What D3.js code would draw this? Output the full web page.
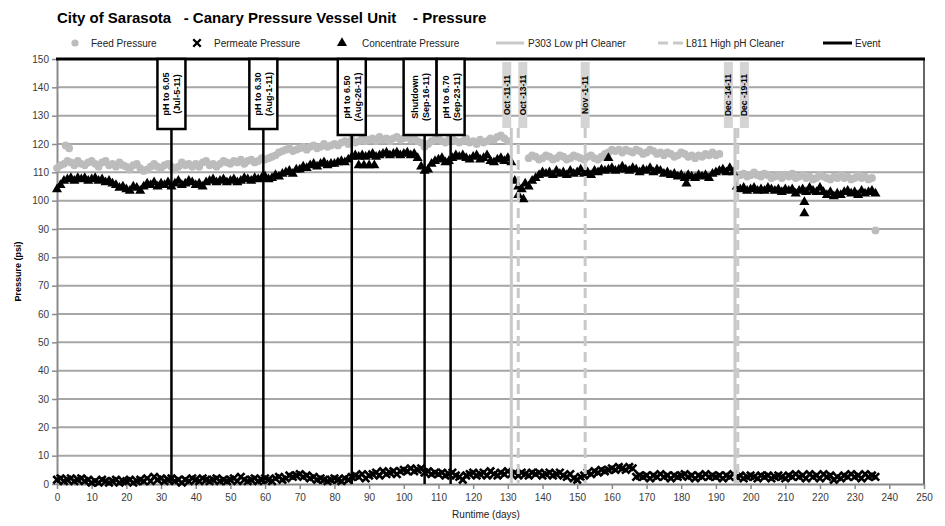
<!DOCTYPE html>
<html><head><meta charset="utf-8">
<script src="https://cdn.jsdelivr.net/npm/d3@7"></script>
<style>
body{margin:0;background:#fff;}
svg{display:block;font-family:"Liberation Sans",Arial,sans-serif;}
</style>
</head><body>
<svg id="chart" width="945" height="526"></svg>
<script>
// ---- DATA (index = runtime day) ----
const feedPressure = [
 111.5,112.5,113,114,113.5,112.5,114,113,112.5,113.5,
 114,113,112,113.5,114,112.5,113,112,113.5,112.5,
 112,111,112.5,113,111.5,110.5,111,112,113,112,
 111.5,112.5,113,112,111,112,113.5,112.5,113,112,
 113,112,113.5,114,112.5,113,112,113,114,113.5,
 113,114,113.5,114.5,113,114,114.5,113.5,114,115,
 114.5,115,115.5,116,117,117.5,118,118.5,117.5,118,
 118.5,119,118,119,119.5,118.5,119,120,119,119.5,
 120,119.5,120.5,121,120,121.5,120.5,121,122,121,
 121.5,122,121,122.5,121.5,122,121,122,122.5,121.5,
 122,122.5,121.5,122,121,120.5,119,120,121,121.5,
 122,121,120.5,121.5,122,121,120.5,121,122,120.5,
 121,120,121.5,120.5,121,122,121.5,122.5,123,122,
 121,null,null,null,null,null,115,116,115.5,114.5,
 115,116,115.5,114.5,115,116,115.5,114.5,115,116,
 115.5,115,114.5,115.5,116,115,114.5,115.5,116.5,117,
 118,117.5,118,117,118,117.5,117,118,117.5,116.5,
 117,118,117.5,116.5,117,116,117,116.5,115.5,116,
 117,116.5,115.5,116,115,116,115.5,116.5,116,117,
 116,116.5,null,null,null,null,null,109,109.5,108.5,
 109,110,109,108.5,109.5,109,108,108.5,109,108,
 109,108.5,109.5,108,108.5,109,108,108.5,107.5,108,
 109,108.5,108,107.5,108.5,108,109,108,108.5,107.5,
 108,109,108,108.5,107.5,108,null
];
const concentratePressure = [
 104,105.5,107,107.5,108,107,108,107.5,108,107,
 107.5,108,107,107.5,106.5,107,106,105.5,104.5,105,
 104,103.5,105,104.5,103.5,105,106,105.5,106.5,105,
 106,105.5,106.5,105,106,107,105.5,106,107,106.5,
 105.5,106,105,106.5,107,107.5,106.5,107,107.5,106.5,
 107,107.5,106.5,107,108,107.5,107,108,107.5,108,
 108.5,107.5,108,109,108.5,109.5,110,110.5,109.5,111,
 111,112,111.5,112.5,113,112,113,113.5,112.5,113,
 113,113.5,114,113.5,114.5,115.5,116,115.5,116,115.5,
 116,116.5,115.5,116,116.5,117,116,116.5,117,116,
 116.5,117,116,116.5,115,112,110.5,111,113,114,
 114.5,115,113.5,114,115,116,115.5,116,115,114.5,
 115.5,116,114.5,115,116,114,113.5,114.5,115,114,
 115,113.5,107,105,104,106,105,107,108,109,
 110,109.5,110,109,110.5,109.5,110,109,110.5,109.5,
 110,111,109.5,110,109,110.5,110,111,110.5,111,
 111.5,110.5,111,112,111,110.5,111.5,111,110,111,
 110.5,111.5,110,111,110.5,109.5,110,109,109.5,108.5,
 109,108,109,108.5,108,109,108.5,109,108,109.5,
 110,110.5,111,110,111.5,110,105,104,104.5,103.5,
 104,104.5,103.5,104,103.5,104.5,104,103.5,104,103,
 104,103.5,104,102.5,103.5,104,103,104.5,103.5,103,
 104.5,103,102,103,101.5,102.5,102,103,103.5,102.5,
 103,102,103.5,102.5,103,103.5,102.5
];
const permeatePressure = [
 1.5,2,1,1.5,2,1,1.5,2,1,1.5,
 0.5,1,0.5,1.5,1,0.5,1,1.5,0.5,1,
 1,1.5,0.5,1,1.5,1,2,1,2.5,1.5,
 2,1,1.5,2,1,1.5,0.5,1.5,1,2,
 1.5,1,2,1.5,1,1.5,2,1,1.5,1,
 1.5,2,1,2.5,1.5,1,1.5,2,1,1.5,
 2,1.5,1,2,2.5,1.5,2,3,2.5,3,
 3.5,2.5,3,2,2.5,1.5,2,1.5,1,1.5,
 2,1.5,1,2,1.5,2.5,3,2.5,3.5,2,
 3,3.5,4,3,4.5,3.5,4,4.5,3.5,4.5,
 5,4.5,5.5,4.5,5,5.5,4,4.5,3.5,4,
 3.5,4,3,3.5,4,3,2.5,1.5,3,3.5,
 4,3,3.5,4,3,4.5,3.5,3,4,3.5,
 4.5,3.5,4,3,4,3.5,3,4,3.5,4,
 3,3.5,4,3,3.5,4,3,2.5,3.5,2,
 1.5,2.5,3,4,3.5,4.5,4,5,4.5,5,
 5.5,5,6,5.5,5,6,5.5,2.5,3,2.5,
 3,2,3,2.5,3.5,2.5,3,2,3,2.5,
 3,3.5,2.5,3,2,3,2.5,3.5,2.5,3,
 2.5,3,2,3,2.5,3.5,2.5,3,2,2.5,
 3,2.5,2,3,2.5,3,2,2.5,3,2.5,
 2,3,2.5,3.5,2.5,3,2,3.5,2.5,3,
 2,3.5,2.5,3,1.5,2.5,2,3,2.5,3.5,
 2.5,3,2,3.5,2.5,3,2.5
];
// extra single readings [day, psi]
const feedExtra = [[2.5,119.5],[3.5,118.5],[236,89.5]];
const concentrateExtra = [[87,112.5],[88.5,112.5],[90,112.5],[91.5,112.5],[133,102],[134.5,100.5],[159,115],[181.5,106],[215.5,99.5],[215.5,95.5]];
const eventDays = [33, 59.5, 85, 106, 113.5];
const eventText1 = ["pH to 6.05","pH to 6.30","pH to 6.50","Shutdown","pH to 6.70"];
const eventText2 = ["(Jul-5-11)","(Aug-1-11)","(Aug-26-11)","(Sep-16-11)","(Sep-23-11)"];
const cleanDays = [131, 133, 152.3, 195.5, 196.3];
const cleanText = ["Oct -11-11","Oct -13-11","Nov -1-11","Dec -14-11","Dec -19-11"];
const cleanType = ["P303","L811","L811","P303","L811"];
const xTickValues = [0,10,20,30,40,50,60,70,80,90,100,110,120,130,140,150,160,170,180,190,200,210,220,230,240,250];
const yTickValues = [0,10,20,30,40,50,60,70,80,90,100,110,120,130,140,150];
const titleText = "City of Sarasota   - Canary Pressure Vessel Unit    - Pressure";
const legendLabels = ["Feed Pressure","Permeate Pressure","Concentrate Pressure","P303 Low pH Cleaner","L811 High pH Cleaner","Event"];

// ---- CHART ----
const svg = d3.select("#chart");
const x = d3.scaleLinear().domain([0,250]).range([57,924]);
const y = d3.scaleLinear().domain([0,150]).range([484,59]);
const GRID = "#a6a6a6", FEED = "#bcbcbc", CLEAN = "#c9c9c9";

// gridlines
svg.append("g").selectAll("line").data(yTickValues.filter(v=>v>0&&v<150)).join("line")
  .attr("x1",x(0)).attr("x2",x(250)).attr("y1",d=>y(d)).attr("y2",d=>y(d))
  .attr("stroke",GRID).attr("stroke-width",2);

// axes
const xAxis = svg.append("g").attr("transform",`translate(0,${y(0)})`)
  .call(d3.axisBottom(x).tickValues(xTickValues).tickSize(5).tickSizeOuter(0).tickFormat(d3.format("d")));
const yAxis = svg.append("g").attr("transform",`translate(${x(0)},0)`)
  .call(d3.axisLeft(y).tickValues(yTickValues).tickSize(5).tickSizeOuter(0).tickFormat(d3.format("d")));
[xAxis,yAxis].forEach(a=>{
  a.select(".domain").attr("stroke","#8c8c8c").attr("stroke-width",2);
  a.selectAll(".tick line").attr("stroke","#8c8c8c").attr("stroke-width",1.5);
  a.selectAll(".tick text").attr("fill","#3a3a3a").style("font-size","10px");
});
xAxis.selectAll(".tick text").attr("dy","0.9em");
// right border and top border
svg.append("line").attr("x1",x(250)).attr("x2",x(250)).attr("y1",y(150)).attr("y2",y(0))
  .attr("stroke","#666").attr("stroke-width",2);
svg.append("line").attr("x1",x(0)-1).attr("x2",x(250)+1).attr("y1",y(150)).attr("y2",y(150))
  .attr("stroke","#000").attr("stroke-width",3);

// series
const feedPts = feedPressure.map((v,i)=>[i,v]).filter(d=>d[1]!=null).concat(feedExtra);
const concPts = concentratePressure.map((v,i)=>[i,v]).filter(d=>d[1]!=null).concat(concentrateExtra);
const permPts = permeatePressure.map((v,i)=>[i,v]).filter(d=>d[1]!=null);

svg.append("g").selectAll("circle").data(feedPts).join("circle")
  .attr("cx",d=>x(d[0])).attr("cy",d=>y(d[1])).attr("r",3.9).attr("fill",FEED);
const xSym = d3.symbol().type(d3.symbolX).size(38);
svg.append("g").selectAll("path").data(permPts).join("path")
  .attr("transform",d=>`translate(${x(d[0])},${y(d[1])})`).attr("d",xSym)
  .attr("fill","none").attr("stroke","#000").attr("stroke-width",2.6);
const triSym = d3.symbol().type(d3.symbolTriangle).size(44);
svg.append("g").selectAll("path").data(concPts).join("path")
  .attr("transform",d=>`translate(${x(d[0])},${y(d[1])})`).attr("d",triSym)
  .attr("fill","#000");

// cleaning lines + labels
const cleanG = svg.append("g");
const cw = 9;
const ccent = cleanDays.map(d=>x(d));
for(let i=0;i<ccent.length-1;i++){
  if(ccent[i+1]-ccent[i] < cw+7){
    const mid=(ccent[i]+ccent[i+1])/2; ccent[i]=mid-(cw+7)/2; ccent[i+1]=mid+(cw+7)/2;
  }
}
const cTop = y(150)+3, cH = 66;
cleanDays.forEach((d,i)=>{
  cleanG.append("line").attr("x1",x(d)).attr("x2",x(d)).attr("y1",cTop+cH).attr("y2",y(0))
    .attr("stroke",CLEAN).attr("stroke-width",3)
    .attr("stroke-dasharray",cleanType[i]==="L811"?"10,6":null);
  cleanG.append("rect").attr("x",ccent[i]-cw/2).attr("y",cTop).attr("width",cw).attr("height",cH)
    .attr("fill","#d4d4d4");
  cleanG.append("text").attr("transform",`translate(${ccent[i]+3},${cTop+cH/2}) rotate(-90)`)
    .attr("text-anchor","middle").style("font-size","8.5px").style("font-weight","bold")
    .text(cleanText[i]);
});

// event lines + boxes
const evG = svg.append("g");
const bw = eventText1.map(t=>t==="Shutdown"?33:28);
const bc = eventDays.map(d=>x(d));
for(let i=bc.length-2;i>=0;i--){
  const overlap = (bc[i]+bw[i]/2) - (bc[i+1]-bw[i+1]/2);
  if(overlap>0) bc[i]-=overlap;
}
eventDays.forEach((d,i)=>{
  const h = i<2?70:76;
  evG.append("line").attr("x1",x(d)).attr("x2",x(d)).attr("y1",y(150)+h).attr("y2",y(0))
    .attr("stroke","#000").attr("stroke-width",2.5);
  evG.append("rect").attr("x",bc[i]-bw[i]/2).attr("y",y(150)).attr("width",bw[i]).attr("height",h)
    .attr("fill","#fff").attr("stroke","#000").attr("stroke-width",2.5);
  const cy = y(150)+h/2;
  evG.append("text").attr("transform",`translate(${bc[i]-2},${cy}) rotate(-90)`)
    .attr("text-anchor","middle").style("font-size","9px").style("font-weight","bold").text(eventText1[i]);
  evG.append("text").attr("transform",`translate(${bc[i]+9},${cy}) rotate(-90)`)
    .attr("text-anchor","middle").style("font-size","9px").style("font-weight","bold").text(eventText2[i]);
});

// title
svg.append("text").attr("x",57).attr("y",23).style("font-size","15px").style("font-weight","bold")
  .attr("xml:space","preserve").style("white-space","pre").text(titleText);

// legend
const lg = svg.append("g").style("font-size","10px");
const ly = 43;
const lx = [75,197,342,496,658,823];
lg.append("circle").attr("cx",lx[0]).attr("cy",ly).attr("r",3.6).attr("fill",FEED);
lg.append("path").attr("transform",`translate(${lx[1]},${ly})`).attr("d",xSym).attr("fill","none").attr("stroke","#000").attr("stroke-width",2.4);
lg.append("path").attr("transform",`translate(${lx[2]},${ly})`).attr("d",triSym).attr("fill","#000");
lg.append("line").attr("x1",lx[3]).attr("x2",lx[3]+28).attr("y1",ly).attr("y2",ly).attr("stroke",CLEAN).attr("stroke-width",3);
lg.append("line").attr("x1",lx[4]).attr("x2",lx[4]+26).attr("y1",ly).attr("y2",ly).attr("stroke",CLEAN).attr("stroke-width",3).attr("stroke-dasharray","10,5");
lg.append("line").attr("x1",lx[5]).attr("x2",lx[5]+29).attr("y1",ly).attr("y2",ly).attr("stroke","#000").attr("stroke-width",3);
const tOff = [16,17,20,32,28,32];
legendLabels.forEach((t,i)=>{
  lg.append("text").attr("x",lx[i]+tOff[i]).attr("y",ly+3.5).attr("fill","#222").text(t);
});

// axis titles
svg.append("text").attr("transform",`translate(21,${y(75)}) rotate(-90)`).attr("text-anchor","middle")
  .style("font-size","9px").style("font-weight","bold").text("Pressure (psi)");
svg.append("text").attr("x",486).attr("y",518).attr("text-anchor","middle")
  .style("font-size","10px").attr("fill","#222").text("Runtime (days)");
</script>
</body></html>
